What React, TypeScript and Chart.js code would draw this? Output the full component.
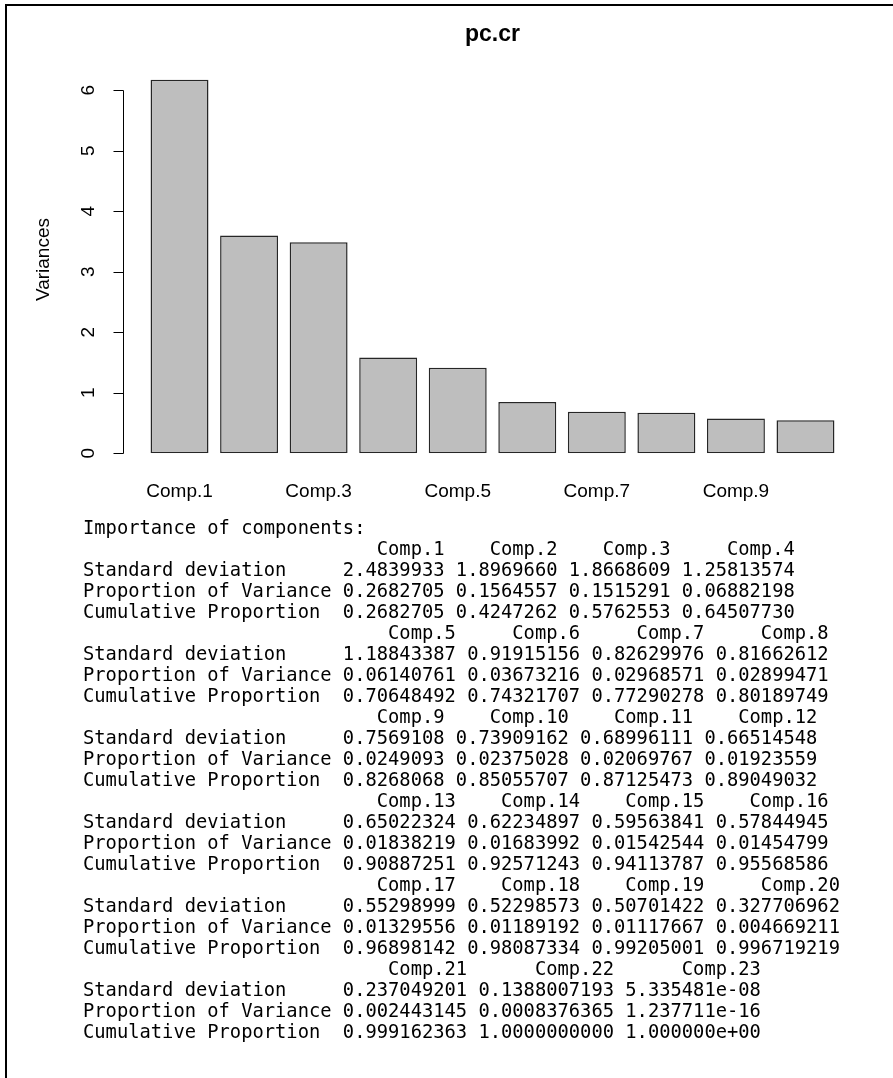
import React, { useEffect, useRef } from 'react';
import { Chart, registerables } from 'chart.js';

Chart.register(...registerables);

const chartTitle = 'pc.cr';
const yAxisTitle = 'Variances';
const categories = ['Comp.1', 'Comp.2', 'Comp.3', 'Comp.4', 'Comp.5', 'Comp.6', 'Comp.7', 'Comp.8', 'Comp.9', 'Comp.10'];
const variances = [6.170, 3.598, 3.485, 1.583, 1.412, 0.845, 0.683, 0.667, 0.573, 0.546];
const yTicks = [0, 1, 2, 3, 4, 5, 6];

const summaryHeading = 'Importance of components:';
const rowNames = ['Standard deviation', 'Proportion of Variance', 'Cumulative Proportion'];
const compNames = [
  'Comp.1', 'Comp.2', 'Comp.3', 'Comp.4', 'Comp.5', 'Comp.6', 'Comp.7', 'Comp.8',
  'Comp.9', 'Comp.10', 'Comp.11', 'Comp.12', 'Comp.13', 'Comp.14', 'Comp.15', 'Comp.16',
  'Comp.17', 'Comp.18', 'Comp.19', 'Comp.20', 'Comp.21', 'Comp.22', 'Comp.23',
];
const stdDev = [
  '2.4839933', '1.8969660', '1.8668609', '1.25813574',
  '1.18843387', '0.91915156', '0.82629976', '0.81662612',
  '0.7569108', '0.73909162', '0.68996111', '0.66514548',
  '0.65022324', '0.62234897', '0.59563841', '0.57844945',
  '0.55298999', '0.52298573', '0.50701422', '0.327706962',
  '0.237049201', '0.1388007193', '5.335481e-08',
];
const propVar = [
  '0.2682705', '0.1564557', '0.1515291', '0.06882198',
  '0.06140761', '0.03673216', '0.02968571', '0.02899471',
  '0.0249093', '0.02375028', '0.02069767', '0.01923559',
  '0.01838219', '0.01683992', '0.01542544', '0.01454799',
  '0.01329556', '0.01189192', '0.01117667', '0.004669211',
  '0.002443145', '0.0008376365', '1.237711e-16',
];
const cumProp = [
  '0.2682705', '0.4247262', '0.5762553', '0.64507730',
  '0.70648492', '0.74321707', '0.77290278', '0.80189749',
  '0.8268068', '0.85055707', '0.87125473', '0.89049032',
  '0.90887251', '0.92571243', '0.94113787', '0.95568586',
  '0.96898142', '0.98087334', '0.99205001', '0.996719219',
  '0.999162363', '1.0000000000', '1.000000e+00',
];
const blockSizes = [4, 4, 4, 4, 4, 3];

const SANS = "'Liberation Sans', Arial, sans-serif";

function buildSummary(): string {
  const lines: string[] = [summaryHeading];
  const rowW = Math.max(...rowNames.map((r) => r.length));
  let start = 0;
  for (const size of blockSizes) {
    const idx = Array.from({ length: size }, (_, k) => start + k);
    const widths = idx.map((i) =>
      Math.max(compNames[i].length, stdDev[i].length, propVar[i].length, cumProp[i].length)
    );
    lines.push(' '.repeat(rowW) + idx.map((i, k) => ' ' + compNames[i].padStart(widths[k])).join(''));
    [stdDev, propVar, cumProp].forEach((arr, r) => {
      lines.push(rowNames[r].padEnd(rowW) + idx.map((i, k) => ' ' + arr[i].padStart(widths[k])).join(''));
    });
    start += size;
  }
  return lines.join('\n');
}

const rAxisPlugin = {
  id: 'rAxis',
  afterDatasetsDraw(chart: any) {
    const y = chart.scales.y;
    const ctx = chart.ctx;
    const x0 = Math.round(chart.chartArea.left - 22) + 0.5;
    ctx.save();
    ctx.strokeStyle = '#000';
    ctx.lineWidth = 1;
    ctx.beginPath();
    ctx.moveTo(x0, Math.round(y.getPixelForValue(yTicks[0])) + 0.5);
    ctx.lineTo(x0, Math.round(y.getPixelForValue(yTicks[yTicks.length - 1])) + 0.5);
    yTicks.forEach((v) => {
      const py = Math.round(y.getPixelForValue(v)) + 0.5;
      ctx.moveTo(x0, py);
      ctx.lineTo(x0 - 10, py);
    });
    ctx.stroke();
    ctx.restore();
  },
};

export default function App() {
  const canvasRef = useRef<HTMLCanvasElement | null>(null);

  useEffect(() => {
    if (!canvasRef.current) return;
    const chart = new Chart(canvasRef.current, {
      type: 'bar',
      data: {
        labels: categories,
        datasets: [
          {
            data: variances,
            backgroundColor: '#bebebe',
            borderColor: '#262626',
            borderWidth: 1.5,
            borderSkipped: false,
            barPercentage: 0.833,
            categoryPercentage: 1,
          },
        ],
      },
      options: {
        animation: false,
        responsive: true,
        maintainAspectRatio: false,
        layout: { padding: { left: 0, right: 52.75, top: 0, bottom: 0 } },
        plugins: {
          legend: { display: false },
          tooltip: { enabled: false },
          title: {
            display: true,
            text: chartTitle,
            fullSize: false,
            color: '#000',
            font: { family: SANS, size: 23, weight: 'bold', lineHeight: 1.2 },
            padding: { top: 20.5, bottom: 17.8 },
          },
        },
        scales: {
          x: {
            grid: { display: false, drawTicks: false },
            border: { display: false },
            ticks: {
              autoSkip: false,
              maxRotation: 0,
              minRotation: 0,
              padding: 27,
              color: '#000',
              font: { family: SANS, size: 19 },
              callback: (_v: any, i: number) => (i % 2 === 0 ? categories[i] : ''),
            },
          },
          y: {
            min: 0,
            max: 6.4,
            grid: { display: false, drawTicks: false },
            border: { display: false },
            afterBuildTicks: (s: any) => {
              s.ticks = yTicks.map((v) => ({ value: v }));
            },
            afterFit: (s: any) => {
              s.width = 144.75;
            },
            ticks: {
              minRotation: 90,
              maxRotation: 90,
              crossAlign: 'center',
              padding: 50.75,
              color: '#000',
              font: { family: SANS, size: 19 },
            },
            title: {
              display: true,
              text: yAxisTitle,
              color: '#000',
              font: { family: SANS, size: 19 },
              padding: { top: 32.6, bottom: 0 },
            },
          },
        },
      } as any,
      plugins: [rAxisPlugin],
    });
    return () => chart.destroy();
  }, []);

  return (
    <div
      style={{
        position: 'absolute',
        left: 0,
        top: 0,
        width: 893,
        height: 1078,
        background: '#fff',
        overflow: 'hidden',
      }}
    >
      <div
        style={{
          position: 'absolute',
          left: 5,
          top: 4,
          width: 1000,
          height: 1200,
          borderTop: '2px solid #000',
          borderLeft: '2px solid #000',
        }}
      />
      <div style={{ position: 'absolute', left: 0, top: 0, width: 893, height: 530 }}>
        <canvas ref={canvasRef} />
      </div>
      <pre
        style={{
          position: 'absolute',
          left: 83,
          top: 517,
          margin: 0,
          fontFamily: "'DejaVu Sans Mono', monospace",
          fontSize: '18.77px',
          lineHeight: '21px',
          color: '#000',
        }}
      >
        {buildSummary()}
      </pre>
    </div>
  );
}
